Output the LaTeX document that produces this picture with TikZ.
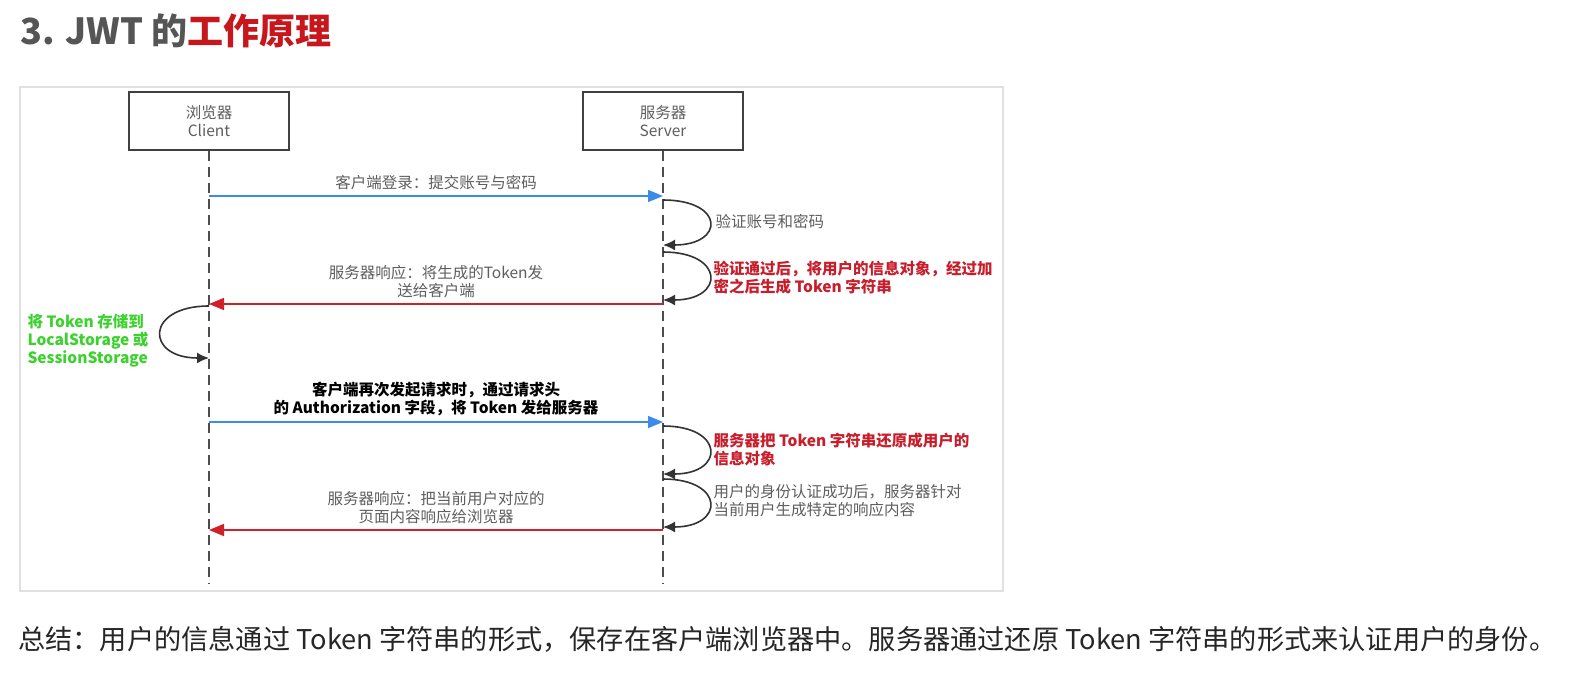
\documentclass[tikz,border=0pt]{standalone}
\usepackage{fontspec}
\setmainfont{Noto Sans CJK SC}
\usetikzlibrary{arrows.meta,positioning}
\definecolor{titlegray}{HTML}{555555}
\definecolor{titlered}{HTML}{C8161D}
\definecolor{msgblue}{HTML}{3D8BE8}
\definecolor{msgred}{HTML}{D0202A}
\definecolor{notegray}{HTML}{5E5E5E}
\definecolor{notered}{HTML}{C81E2C}
\definecolor{notegreen}{HTML}{3CD22E}
\tikzset{
  actor/.style={draw=black!75, line width=1.6pt, minimum width=160pt, minimum height=58pt,
    align=center, text=notegray, font=\fontsize{15.5}{18}\selectfont},
  life/.style={draw=black!70, line width=1.6pt, dash pattern=on 10pt off 6pt},
  req/.style={draw=msgblue, line width=1.6pt, -{Triangle[length=15pt,width=12pt,fill=msgblue]}},
  resp/.style={draw=msgred, line width=1.6pt, -{Triangle[length=15pt,width=12pt,fill=msgred]}},
  self/.style={draw=black!80, line width=1.6pt, -{Latex[length=12pt,width=11pt]}},
  lbl/.style={font=\fontsize{15.5}{18}\selectfont, align=center, text=notegray},
  note/.style={lbl, align=left, anchor=west},
}
\begin{document}
\begin{tikzpicture}[x=1pt, y=-1pt]
  \useasboundingbox[fill=white] (0,0) rectangle (1584,672);
  \node[anchor=west, inner sep=0pt, font=\fontsize{36}{40}\selectfont\bfseries] (title) at (20,31)
    {\textcolor{titlegray}{3. JWT 的}\textcolor{titlered}{工作原理}};
  \draw[black!12, line width=1.5pt] (20,87) rectangle (1003,591);

  % lifelines
  \node[actor] (client) at (209,121) {浏览器\\Client};
  \node[actor] (server) at (663,121) {服务器\\Server};
  \coordinate (cend) at (client |- 0,584);
  \coordinate (send) at (server |- 0,584);
  \draw[life] (client) -- (cend);
  \draw[life] (server) -- (send);

  \foreach \n/\y in {a/196, b/304, c/422, d/530} {
    \coordinate (c\n) at (client |- 0,\y);
    \coordinate (s\n) at (server |- 0,\y);
  }
  \foreach \n/\a/\b in {1/200/245, 2/252/300, 3/426/474, 4/479/527} {
    \coordinate (lt\n) at (server |- 0,\a);
    \coordinate (lb\n) at (server |- 0,\b);
    \draw[self] (lt\n) .. controls +(62,0) and +(62,0) .. (lb\n);
  }
  \coordinate (kt) at (client |- 0,306);
  \coordinate (kb) at (client |- 0,358);
  \draw[self] (kt) .. controls +(-64,0) and +(-64,0) .. (kb);

  % messages
  \draw[req] (ca) -- node[lbl, above=2pt] (login) {客户端登录：提交账号与密码} (sa);
  \draw[resp] (sb) -- node[lbl, above=2pt] (issue) {服务器响应：将生成的Token发\\送给客户端} (cb);
  \draw[req] (cc) -- node[lbl, above=2pt, text=black, font=\fontsize{15.5}{18}\selectfont\bfseries] (again)
    {客户端再次发起请求时，通过请求头\\的 Authorization 字段，将 Token 发给服务器} (sc);
  \draw[resp] (sd) -- node[lbl, above=2pt] (reply) {服务器响应：把当前用户对应的\\页面内容响应给浏览器} (cd);

  % notes
  \node[note] (check) at (712,222) {验证账号和密码};
  \node[note, text=notered, font=\fontsize{15.5}{18}\selectfont\bfseries] (sign) at (710,278)
    {验证通过后，将用户的信息对象，经过加\\密之后生成 Token 字符串};
  \node[note, text=notegreen, font=\fontsize{15.5}{18}\selectfont\bfseries] (store) at (24,341)
    {将 Token 存储到\\LocalStorage 或\\SessionStorage};
  \node[note, text=notered, font=\fontsize{15.5}{18}\selectfont\bfseries] (decode) at (710,449)
    {服务器把 Token 字符串还原成用户的\\信息对象};
  \node[note] (build) at (710,501) {用户的身份认证成功后，服务器针对\\当前用户生成特定的响应内容};

  \node[anchor=west, inner sep=0pt, text=black!85, font=\fontsize{27.2}{30}\selectfont] (summary) at (18,639)
    {总结：用户的信息通过 Token 字符串的形式，保存在客户端浏览器中。服务器通过还原 Token 字符串的形式来认证用户的身份。};
\end{tikzpicture}
\end{document}
